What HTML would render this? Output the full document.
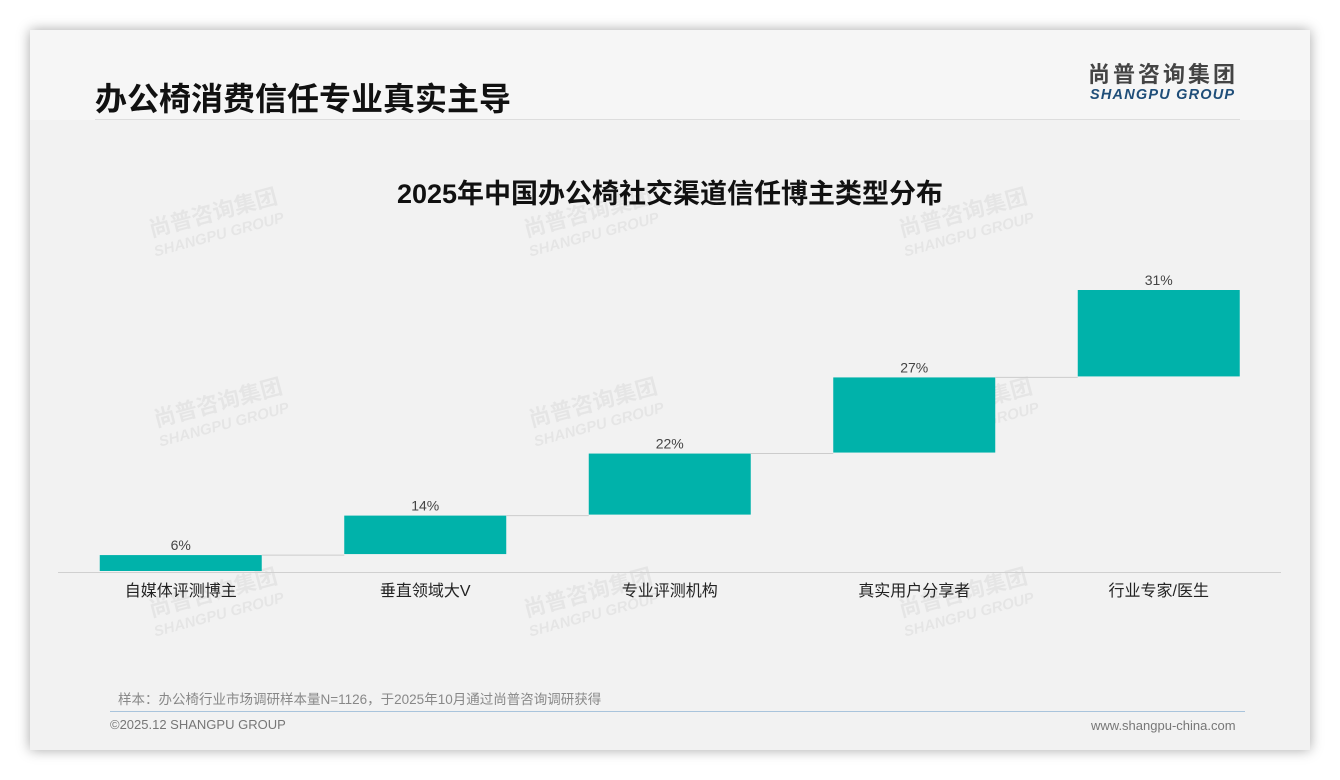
<!DOCTYPE html>
<html><head><meta charset="utf-8"><style>
body{margin:0;width:1340px;height:780px;background:#fff;position:relative;overflow:hidden;font-family:"Liberation Sans","Noto Sans CJK SC",sans-serif}
#card{position:absolute;left:30px;top:30px;width:1280px;height:720px;background:#f2f2f2;box-shadow:0 0 12px rgba(0,0,0,0.35)}
#hdr{position:absolute;left:0;top:0;width:1280px;height:90px;background:#f6f6f6}
.abs{position:absolute;white-space:nowrap}
</style></head><body>
<div id="card">
<div id="hdr"></div>
</div>
<div class="abs" style="left:95px;top:74px;font-size:32px;font-weight:bold;color:#111">办公椅消费信任专业真实主导</div>
<div class="abs" style="left:95px;top:119px;width:1145px;height:1px;background:#ddd"></div>
<div class="abs" style="left:1088px;top:64px;line-height:1;font-size:22px;font-weight:bold;color:#444;letter-spacing:3px">尚普咨询集团</div>
<div class="abs" style="left:1090px;top:88px;line-height:1;font-size:14.5px;font-weight:bold;font-style:italic;color:#1f4e79;letter-spacing:1.2px">SHANGPU GROUP</div>
<div class="abs" style="left:0;width:1340px;text-align:center;top:172px;font-size:27px;font-weight:bold;color:#111">2025年中国办公椅社交渠道信任博主类型分布</div>
<svg id="chart" class="abs" style="left:0;top:0" width="1340" height="780"></svg>
<div class="abs" style="left:118px;top:688px;font-size:13.5px;color:#888">样本：办公椅行业市场调研样本量N=1126，于2025年10月通过尚普咨询调研获得</div>
<div class="abs" style="left:110px;top:711px;width:1135px;height:1px;background:#a9c4dc"></div>
<div class="abs" style="left:110px;top:717px;font-size:13px;color:#777">©2025.12 SHANGPU GROUP</div>
<div class="abs" style="left:1091px;top:718px;font-size:13px;color:#777">www.shangpu-china.com</div>
<script>
const categories=["自媒体评测博主","垂直领域大V","专业评测机构","真实用户分享者","行业专家/医生"];
const values=[6,14,22,27,31];
const labels=["6%","14%","22%","27%","31%"];
const svg=document.getElementById('chart');
const NS='http://www.w3.org/2000/svg';
const base=572, pxPer=2.82, x0=58, step=244.5, bw=162;
function y(v){return base-v*pxPer;}
function xc(i){return x0+step*(i+0.5)+0.5;}
function mk(t,a){const e=document.createElementNS(NS,t);for(const k in a)e.setAttribute(k,a[k]);svg.appendChild(e);return e;}
const wm=[[215,220],[590,220],[965,220],[220,410],[595,410],[970,410],[215,600],[590,600],[965,600]];
wm.forEach(p=>{
 const t=mk('text',{x:p[0],y:p[1],'text-anchor':'middle','font-size':22,'font-weight':'bold',fill:'#000','fill-opacity':0.05,transform:`rotate(-15 ${p[0]} ${p[1]})`});t.textContent='尚普咨询集团';
 
 
 const t2=mk('text',{x:p[0],y:p[1]+20,'text-anchor':'middle','font-size':15,'font-weight':'bold','font-style':'italic',fill:'#000','fill-opacity':0.05,transform:`rotate(-15 ${p[0]} ${p[1]})`});t2.textContent='SHANGPU GROUP';
 
 
});
const ax=mk('line',{x1:58,x2:1281,y1:base+0.5,y2:base+0.5,stroke:'#d0d0d0','stroke-width':1});


let cum=0;
values.forEach((v,i)=>{
 const top=y(cum+v), bot=y(cum);
 const r=mk('rect',{x:xc(i)-bw/2,y:top,width:bw,height:bot-top-1,fill:'#00b2aa'});
 
 
 if(i<values.length-1){
  const c=mk('line',{x1:xc(i)+bw/2,x2:xc(i+1)-bw/2,y1:top,y2:top,stroke:'#cccccc','stroke-width':1});
  
  
 }
 const t=mk('text',{x:xc(i),y:top-5,'text-anchor':'middle','font-size':14,fill:'#444'});t.textContent=labels[i];
 
 
 const c2=mk('text',{x:xc(i),y:596,'text-anchor':'middle','font-size':16,fill:'#222'});c2.textContent=categories[i];
 
 
 cum+=v;
});
</script>
</body></html>
